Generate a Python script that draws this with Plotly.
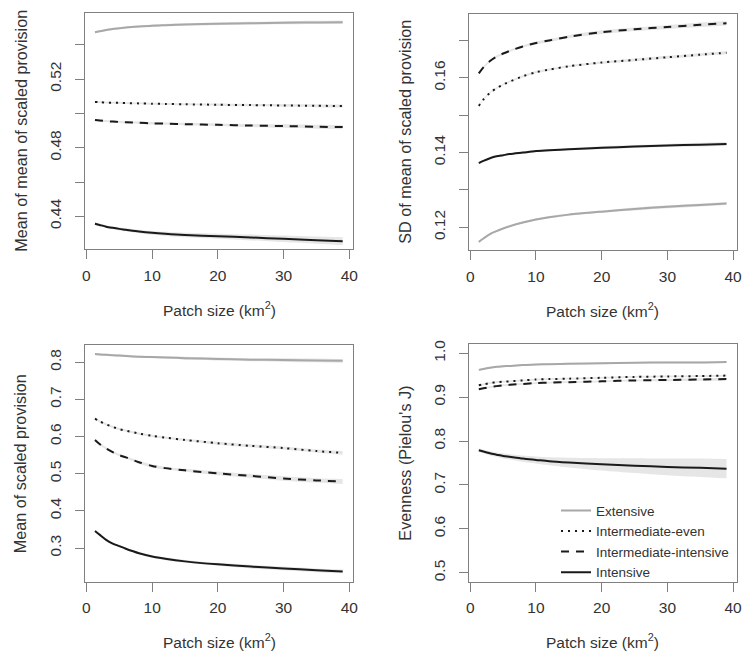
import plotly.graph_objects as go

# ---------------- data ----------------
patch_size = [1.3, 2, 3, 4, 5, 6, 8, 10, 12, 15, 20, 25, 30, 35, 39]
series_names = ["Extensive", "Intermediate-even", "Intermediate-intensive", "Intensive"]

# Panel 1: mean of mean of scaled provision
mm_extensive = [0.5472, 0.5478, 0.5486, 0.5492, 0.5496, 0.5500, 0.5506, 0.5511, 0.5514, 0.5518, 0.5522, 0.5525, 0.5528, 0.5530, 0.5531]
mm_int_even = [0.5066, 0.5065, 0.5063, 0.5062, 0.5061, 0.5060, 0.5058, 0.5056, 0.5055, 0.5053, 0.5050, 0.5048, 0.5046, 0.5044, 0.5043]
mm_int_intensive = [0.4961, 0.4958, 0.4955, 0.4952, 0.4950, 0.4948, 0.4945, 0.4942, 0.4940, 0.4937, 0.4933, 0.4929, 0.4926, 0.4922, 0.4920]
mm_intensive = [0.4357, 0.4350, 0.4340, 0.4333, 0.4327, 0.4322, 0.4312, 0.4304, 0.4298, 0.4291, 0.4284, 0.4277, 0.4269, 0.4261, 0.4255]
mm_ci_extensive = [0.0006, 0.0006, 0.0006, 0.0006, 0.0006, 0.0006, 0.0006, 0.0007, 0.0007, 0.0007, 0.0008, 0.0008, 0.0009, 0.0009, 0.0010]
mm_ci_int_even = [0.0005, 0.0005, 0.0005, 0.0005, 0.0005, 0.0005, 0.0005, 0.0006, 0.0006, 0.0006, 0.0007, 0.0007, 0.0008, 0.0008, 0.0009]
mm_ci_int_intensive = [0.0006, 0.0006, 0.0006, 0.0006, 0.0006, 0.0006, 0.0007, 0.0007, 0.0007, 0.0008, 0.0008, 0.0009, 0.0010, 0.0011, 0.0012]
mm_ci_intensive = [0.0008, 0.0008, 0.0008, 0.0008, 0.0009, 0.0009, 0.0010, 0.0011, 0.0012, 0.0013, 0.0015, 0.0017, 0.0019, 0.0021, 0.0023]

# Panel 2: SD of mean of scaled provision
sd_extensive = [0.1161, 0.1170, 0.1182, 0.1190, 0.1197, 0.1203, 0.1213, 0.1221, 0.1227, 0.1234, 0.1242, 0.1249, 0.1255, 0.1260, 0.1264]
sd_int_even = [0.1525, 0.1542, 0.1560, 0.1572, 0.1582, 0.1590, 0.1604, 0.1615, 0.1622, 0.1631, 0.1641, 0.1648, 0.1655, 0.1662, 0.1667]
sd_int_intensive = [0.1612, 0.1628, 0.1645, 0.1657, 0.1665, 0.1672, 0.1684, 0.1693, 0.1700, 0.1710, 0.1722, 0.1730, 0.1736, 0.1742, 0.1746]
sd_intensive = [0.1372, 0.1378, 0.1385, 0.1390, 0.1393, 0.1396, 0.1400, 0.1404, 0.1406, 0.1409, 0.1413, 0.1416, 0.1419, 0.1421, 0.1423]
sd_ci_extensive = [0.0002, 0.0002, 0.0002, 0.0002, 0.0002, 0.0002, 0.0003, 0.0003, 0.0003, 0.0003, 0.0003, 0.0004, 0.0004, 0.0004, 0.0004]
sd_ci_int_even = [0.0002, 0.0002, 0.0002, 0.0002, 0.0002, 0.0002, 0.0003, 0.0003, 0.0003, 0.0003, 0.0003, 0.0004, 0.0004, 0.0004, 0.0004]
sd_ci_int_intensive = [0.0003, 0.0003, 0.0003, 0.0003, 0.0003, 0.0003, 0.0003, 0.0004, 0.0004, 0.0004, 0.0005, 0.0005, 0.0005, 0.0006, 0.0006]
sd_ci_intensive = [0.0002, 0.0002, 0.0002, 0.0002, 0.0002, 0.0002, 0.0003, 0.0003, 0.0003, 0.0003, 0.0004, 0.0004, 0.0004, 0.0005, 0.0005]

# Panel 3: mean of scaled provision
mp_extensive = [0.822, 0.821, 0.820, 0.819, 0.818, 0.817, 0.815, 0.814, 0.813, 0.811, 0.809, 0.807, 0.806, 0.805, 0.804]
mp_int_even = [0.648, 0.641, 0.633, 0.626, 0.620, 0.616, 0.608, 0.602, 0.597, 0.591, 0.582, 0.575, 0.569, 0.561, 0.556]
mp_int_intensive = [0.591, 0.580, 0.568, 0.558, 0.550, 0.544, 0.531, 0.521, 0.515, 0.509, 0.501, 0.494, 0.487, 0.482, 0.479]
mp_intensive = [0.346, 0.336, 0.322, 0.312, 0.305, 0.298, 0.286, 0.277, 0.271, 0.264, 0.256, 0.250, 0.245, 0.240, 0.237]
mp_ci_extensive = [0.003, 0.003, 0.003, 0.003, 0.003, 0.003, 0.003, 0.003, 0.003, 0.004, 0.004, 0.004, 0.005, 0.005, 0.005]
mp_ci_int_even = [0.003, 0.003, 0.003, 0.003, 0.003, 0.003, 0.003, 0.003, 0.003, 0.003, 0.004, 0.004, 0.004, 0.004, 0.005]
mp_ci_int_intensive = [0.003, 0.003, 0.003, 0.003, 0.003, 0.003, 0.004, 0.004, 0.004, 0.004, 0.005, 0.005, 0.006, 0.006, 0.007]
mp_ci_intensive = [0.003, 0.003, 0.003, 0.003, 0.003, 0.003, 0.003, 0.003, 0.004, 0.004, 0.004, 0.005, 0.005, 0.005, 0.005]

# Panel 4: evenness (Pielou's J)
ev_extensive = [0.962, 0.964, 0.967, 0.969, 0.970, 0.971, 0.973, 0.974, 0.975, 0.976, 0.977, 0.978, 0.979, 0.979, 0.980]
ev_int_even = [0.927, 0.929, 0.932, 0.934, 0.935, 0.936, 0.938, 0.940, 0.941, 0.942, 0.944, 0.946, 0.947, 0.948, 0.949]
ev_int_intensive = [0.918, 0.920, 0.923, 0.925, 0.927, 0.928, 0.930, 0.932, 0.933, 0.934, 0.936, 0.938, 0.939, 0.940, 0.941]
ev_intensive = [0.779, 0.776, 0.772, 0.769, 0.766, 0.764, 0.760, 0.757, 0.754, 0.751, 0.747, 0.744, 0.741, 0.739, 0.737]
ev_ci_extensive = [0.002, 0.002, 0.002, 0.002, 0.002, 0.002, 0.002, 0.002, 0.002, 0.002, 0.002, 0.002, 0.002, 0.002, 0.002]
ev_ci_int_even = [0.002, 0.002, 0.002, 0.002, 0.002, 0.002, 0.002, 0.002, 0.002, 0.002, 0.002, 0.002, 0.002, 0.002, 0.002]
ev_ci_int_intensive = [0.002, 0.002, 0.002, 0.002, 0.002, 0.002, 0.002, 0.002, 0.002, 0.002, 0.002, 0.002, 0.003, 0.003, 0.003]
ev_ci_intensive = [0.004, 0.004, 0.005, 0.005, 0.006, 0.006, 0.007, 0.008, 0.009, 0.011, 0.014, 0.017, 0.019, 0.021, 0.022]

x_tick_values = [0, 10, 20, 30, 40]
p1_tick_values = [0.44, 0.48, 0.52]
p1_tick_labels = ["0.44", "0.48", "0.52"]
p1_minor_ticks = [0.44, 0.46, 0.48, 0.50, 0.52, 0.54]
p2_tick_values = [0.12, 0.14, 0.16]
p2_tick_labels = ["0.12", "0.14", "0.16"]
p2_minor_ticks = [0.12, 0.13, 0.14, 0.15, 0.16, 0.17]
p3_tick_values = [0.3, 0.4, 0.5, 0.6, 0.7, 0.8]
p3_tick_labels = ["0.3", "0.4", "0.5", "0.6", "0.7", "0.8"]
p3_minor_ticks = []
p4_tick_values = [0.5, 0.6, 0.7, 0.8, 0.9, 1.0]
p4_tick_labels = ["0.5", "0.6", "0.7", "0.8", "0.9", "1.0"]
p4_minor_ticks = []

y_titles = ["Mean of mean of scaled provision", "SD of mean of scaled provision",
            "Mean of scaled provision", "Evenness (Pielou's J)"]
x_title = "Patch size (km<sup>2</sup>)"

# ---------------- styling ----------------
W, H = 746, 658
FONT = "Liberation Sans, Arial, Helvetica, sans-serif"
TXT = "#333333"
BOX = "#808080"
BAND = "#e6e6e6"
line_styles = [
    dict(color="#a8a8a8", width=2, dash="solid", shape="spline", smoothing=0.8),
    dict(color="#1a1a1a", width=2, dash="2px,5px", shape="spline", smoothing=0.8),
    dict(color="#1a1a1a", width=2, dash="8px,7px", shape="spline", smoothing=0.8),
    dict(color="#1a1a1a", width=2, dash="solid", shape="spline", smoothing=0.8),
]
# pixel boxes (x0, x1, y0, y1) measured from the top-left corner
boxes = [(83, 354, 8, 246), (471, 742, 9, 247), (83, 354, 343, 581), (471, 742, 342, 581)]
y_ranges = [[0.4209, 0.5585], [0.1139, 0.1771], [0.2096, 0.8454], [0.48, 1.02]]
x_range = [-0.2, 40.6]

panels = [
    ([mm_extensive, mm_int_even, mm_int_intensive, mm_intensive],
     [mm_ci_extensive, mm_ci_int_even, mm_ci_int_intensive, mm_ci_intensive],
     p1_tick_values, p1_tick_labels, p1_minor_ticks),
    ([sd_extensive, sd_int_even, sd_int_intensive, sd_intensive],
     [sd_ci_extensive, sd_ci_int_even, sd_ci_int_intensive, sd_ci_intensive],
     p2_tick_values, p2_tick_labels, p2_minor_ticks),
    ([mp_extensive, mp_int_even, mp_int_intensive, mp_intensive],
     [mp_ci_extensive, mp_ci_int_even, mp_ci_int_intensive, mp_ci_intensive],
     p3_tick_values, p3_tick_labels, p3_minor_ticks),
    ([ev_extensive, ev_int_even, ev_int_intensive, ev_intensive],
     [ev_ci_extensive, ev_ci_int_even, ev_ci_int_intensive, ev_ci_intensive],
     p4_tick_values, p4_tick_labels, p4_minor_ticks),
]

fig = go.Figure()
layout = dict(
    width=W, height=H, margin=dict(l=0, r=0, t=0, b=0),
    paper_bgcolor="white", plot_bgcolor="white",
    font=dict(family=FONT, color=TXT, size=15.5),
    showlegend=True,
    legend=dict(x=559 / W, y=1 - 494 / H, xanchor="left", yanchor="top",
                bgcolor="rgba(0,0,0,0)", font=dict(size=13.5, color=TXT),
                traceorder="normal", itemwidth=30, tracegroupgap=0),
)
annotations = []

for i, (vals, cis, tv, tt, minor_tv) in enumerate(panels):
    n = i + 1
    xa = "x" if n == 1 else f"x{n}"
    ya = "y" if n == 1 else f"y{n}"
    x0, x1, y0, y1 = boxes[i]
    # confidence bands
    for vs, cs in zip(vals, cis):
        up = [v + c for v, c in zip(vs, cs)]
        lo = [v - c for v, c in zip(vs, cs)]
        fig.add_trace(go.Scatter(x=patch_size, y=up, mode="lines",
                                 line=dict(width=0, color=BAND, shape="spline", smoothing=0.8),
                                 xaxis=xa, yaxis=ya, showlegend=False, hoverinfo="skip"))
        fig.add_trace(go.Scatter(x=patch_size, y=lo, mode="lines",
                                 line=dict(width=0, color=BAND, shape="spline", smoothing=0.8),
                                 fill="tonexty", fillcolor=BAND,
                                 xaxis=xa, yaxis=ya, showlegend=False, hoverinfo="skip"))
    # mean lines
    for k, vs in enumerate(vals):
        fig.add_trace(go.Scatter(x=patch_size, y=vs, mode="lines", name=series_names[k],
                                 line=line_styles[k], xaxis=xa, yaxis=ya,
                                 showlegend=(n == 4)))
    axis_common = dict(showline=True, linecolor=BOX, linewidth=1, mirror=True,
                       ticks="outside", ticklen=9, tickcolor=BOX, tickwidth=1,
                       showgrid=False, zeroline=False,
                       tickfont=dict(family=FONT, size=15.5, color=TXT))
    layout["xaxis" if n == 1 else f"xaxis{n}"] = dict(
        axis_common, domain=[x0 / W, x1 / W], range=x_range, tickvals=x_tick_values,
        anchor=ya, ticklabelstandoff=3)
    yax = dict(axis_common, domain=[1 - y1 / H, 1 - y0 / H], range=y_ranges[i],
               tickmode="array", tickvals=tv, ticktext=tt, tickangle=-90, anchor=xa,
               ticklabelstandoff=8)
    if minor_tv:
        yax["minor"] = dict(tickmode="array", tickvals=minor_tv, ticks="outside",
                            ticklen=9, tickcolor=BOX, tickwidth=1, showgrid=False)
    layout["yaxis" if n == 1 else f"yaxis{n}"] = yax
    annotations.append(dict(text=x_title, x=(x0 + x1) / 2 / W, y=1 - (y1 + 60) / H,
                            xref="paper", yref="paper", showarrow=False,
                            xanchor="center", yanchor="middle",
                            font=dict(family=FONT, size=15.5, color=TXT)))
    annotations.append(dict(text=y_titles[i], x=(x0 - 65) / W, y=1 - (y0 + y1) / 2 / H,
                            xref="paper", yref="paper", showarrow=False, textangle=-90,
                            xanchor="center", yanchor="middle",
                            font=dict(family=FONT, size=16.2, color=TXT)))

layout["annotations"] = annotations
fig.update_layout(**layout)
fig.write_html("out.html", config={"displayModeBar": False},
               post_script="document.body.style.margin='0';document.body.style.padding='0';")
